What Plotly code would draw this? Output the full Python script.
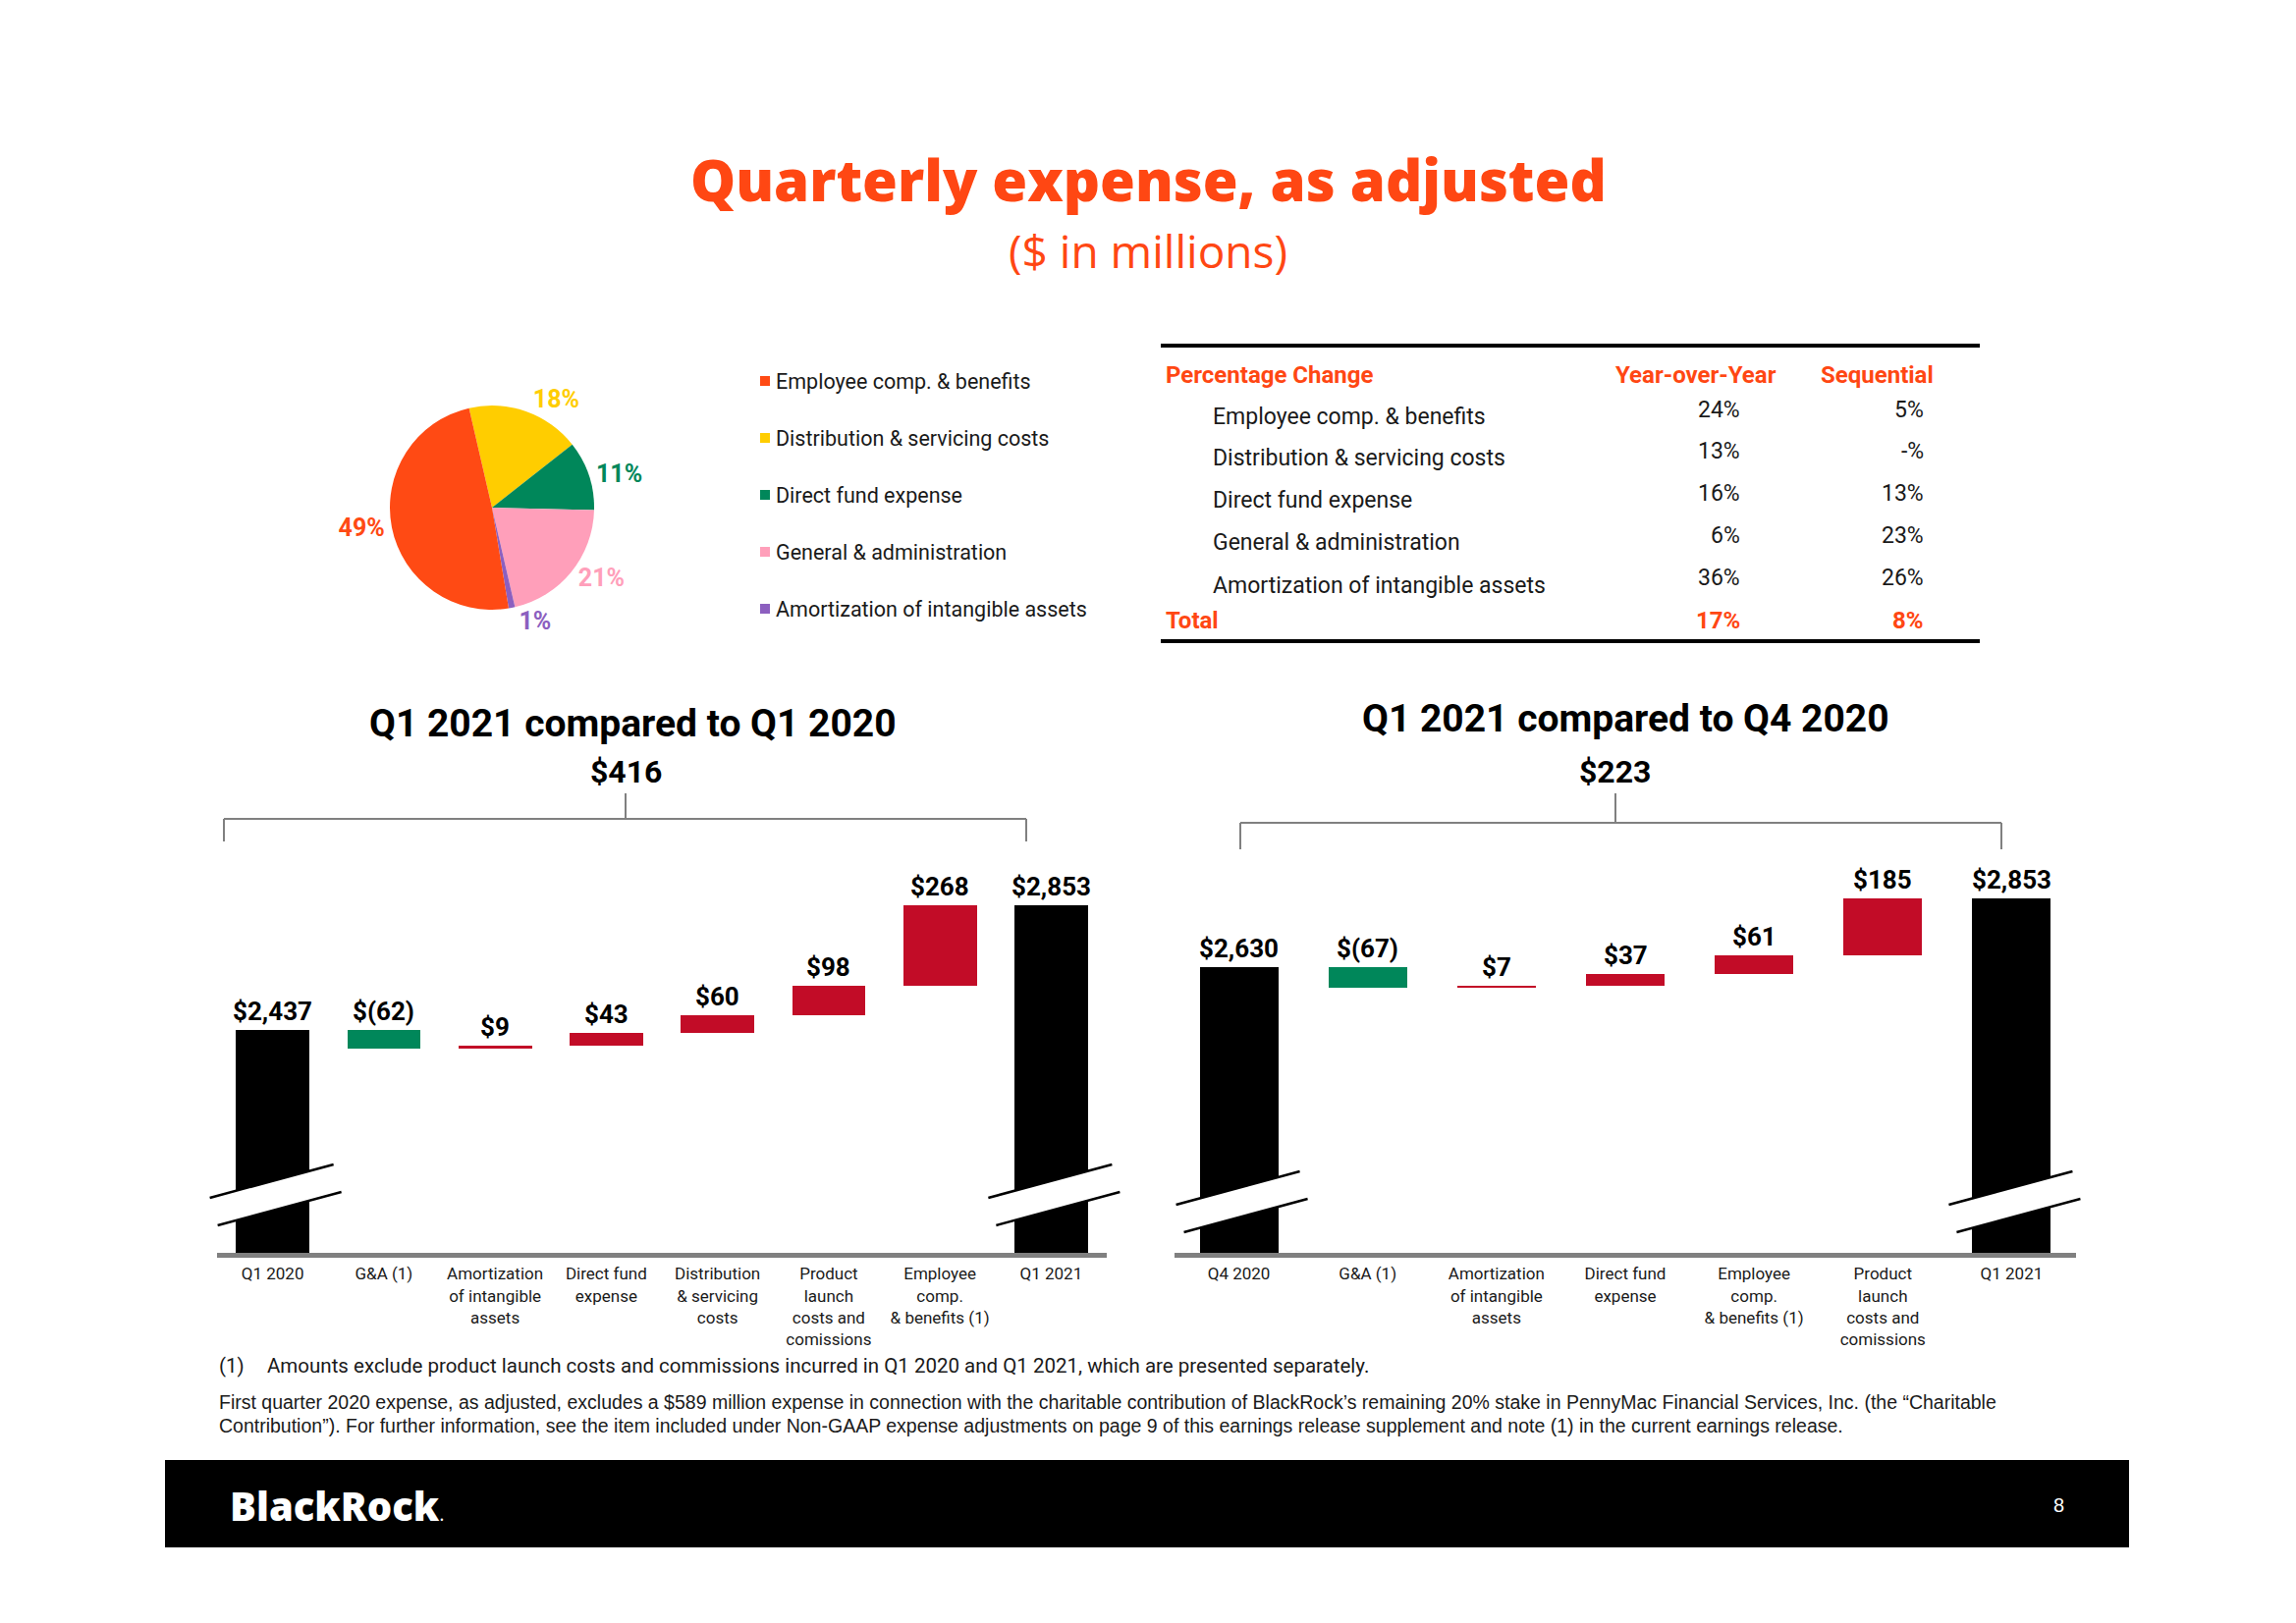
import plotly.graph_objects as go

W, H = 2338, 1653
OFF = 8                      # default page margin of the html body
FW, FH = W - 2 * OFF, H - 2 * OFF

ORANGE = "#FF4713"
RED = "#C20C27"
GREEN = "#00875A"
BLACK = "#000000"
GRAY = "#808080"
TXT = "#1A1A1A"
FONT = "Roboto"

# ---------------- data ----------------
pie_labels = ["Employee comp. & benefits", "Distribution & servicing costs",
              "Direct fund expense", "General & administration",
              "Amortization of intangible assets"]
pie_shares = [49, 18, 11, 21, 1]
pie_colors = ["#FF4A14", "#FFCD00", "#00875A", "#FF9FBA", "#8C5FBF"]
pie_draw_order = [1, 2, 3, 4, 0]

table_rows = ["Employee comp. & benefits", "Distribution & servicing costs",
              "Direct fund expense", "General & administration",
              "Amortization of intangible assets"]
table_yoy = ["24%", "13%", "16%", "6%", "36%"]
table_seq = ["5%", "-%", "13%", "23%", "26%"]
total_yoy = "17%"
total_seq = "8%"

left_cats = ["Q1 2020", "G&A (1)", "Amortization<br>of intangible<br>assets",
             "Direct fund<br>expense", "Distribution<br>& servicing<br>costs",
             "Product<br>launch<br>costs and<br>comissions",
             "Employee<br>comp.<br>& benefits (1)", "Q1 2021"]
left_vals = [2437, -62, 9, 43, 60, 98, 268, 2853]
left_kind = ["total", "relative", "relative", "relative", "relative", "relative", "relative", "total"]
left_change = 416

right_cats = ["Q4 2020", "G&A (1)", "Amortization<br>of intangible<br>assets",
              "Direct fund<br>expense", "Employee<br>comp.<br>& benefits (1)",
              "Product<br>launch<br>costs and<br>comissions", "Q1 2021"]
right_vals = [2630, -67, 7, 37, 61, 185, 2853]
right_kind = ["total", "relative", "relative", "relative", "relative", "relative", "total"]
right_change = 223


def X(p):
    return (p - OFF) / FW


def Y(p):
    return 1 - (p - OFF) / FH


def money(v):
    return f"$({abs(v):,})" if v < 0 else f"${v:,}"


def waterfall(vals, kinds):
    bases, heights, colors, tops = [], [], [], []
    run = 0
    for v, k in zip(vals, kinds):
        if k == "total":
            bases.append(0); heights.append(v); colors.append(BLACK); tops.append(v); run = v
        else:
            bases.append(run); heights.append(v)
            colors.append(RED if v > 0 else GREEN)
            tops.append(max(run, run + v)); run += v
    return bases, heights, colors, tops


fig = go.Figure()

# ---------------- pie ----------------
cx, cy, r = 501, 517, 104
fig.add_trace(go.Pie(
    labels=[pie_labels[i] for i in pie_draw_order],
    values=[pie_shares[i] for i in pie_draw_order],
    marker=dict(colors=[pie_colors[i] for i in pie_draw_order], line=dict(width=0)),
    sort=False, direction="clockwise", rotation=347,
    texttemplate="%{value}%", textposition="outside",
    textfont=dict(family=FONT, size=25, color=[pie_colors[i] for i in pie_draw_order], weight="bold"),
    showlegend=False, hoverinfo="skip",
    domain=dict(x=[X(cx - r), X(cx + r)], y=[Y(cy + r), Y(cy - r)]),
))

shapes = []
ann = []

# legend
leg_y = [388, 446, 504, 562, 620]
for lab, col, yy in zip(pie_labels, pie_colors, leg_y):
    shapes.append(dict(type="rect", xref="paper", yref="paper", x0=X(774), x1=X(784),
                       y0=Y(yy + 5), y1=Y(yy - 5), fillcolor=col, line=dict(width=0)))
    ann.append(dict(text=lab, x=X(788), y=Y(yy), xanchor="left", yanchor="middle",
                    font=dict(family=FONT, size=21.5, color=TXT)))

# ---------------- title ----------------
ann.append(dict(text="Quarterly expense, as adjusted", x=X(1169), y=Y(183), xanchor="center", yanchor="middle",
                font=dict(family="Open Sans", size=58, color=ORANGE, weight=800)))
ann.append(dict(text="($ in millions)", x=X(1169), y=Y(255), xanchor="center", yanchor="middle",
                font=dict(family="Open Sans", size=46, color=ORANGE)))

# ---------------- table ----------------
for yy in (352, 653):
    shapes.append(dict(type="line", xref="paper", yref="paper", x0=X(1182), x1=X(2016),
                       y0=Y(yy), y1=Y(yy), line=dict(color=BLACK, width=4)))
hdr = dict(family=FONT, size=24, color=ORANGE, weight="bold")
ann.append(dict(text="Percentage Change", x=X(1185), y=Y(382), xanchor="left", yanchor="middle", font=hdr))
ann.append(dict(text="Year-over-Year", x=X(1727), y=Y(382), xanchor="center", yanchor="middle", font=hdr))
ann.append(dict(text="Sequential", x=X(1911), y=Y(382), xanchor="center", yanchor="middle", font=hdr))
row_y = [425, 467, 510, 553, 596]
for lab, yoy, seq, yy in zip(table_rows, table_yoy, table_seq, row_y):
    f = dict(family=FONT, size=23, color=TXT)
    ann.append(dict(text=lab, x=X(1233), y=Y(yy), xanchor="left", yanchor="middle", font=f))
    ann.append(dict(text=yoy, x=X(1774), y=Y(yy - 8), xanchor="right", yanchor="middle", font=f))
    ann.append(dict(text=seq, x=X(1961), y=Y(yy - 8), xanchor="right", yanchor="middle", font=f))
ann.append(dict(text="Total", x=X(1185), y=Y(632), xanchor="left", yanchor="middle", font=hdr))
ann.append(dict(text=total_yoy, x=X(1774), y=Y(632), xanchor="right", yanchor="middle", font=hdr))
ann.append(dict(text=total_seq, x=X(1961), y=Y(632), xanchor="right", yanchor="middle", font=hdr))

# ---------------- waterfalls ----------------
BASE_PX, TOP_PX = 1276, 880
charts = [
    dict(cats=left_cats, vals=left_vals, kind=left_kind, change=left_change, xa="x", ya="y",
         dom=(221, 1127), rng=[1694, 2992], width=0.66,
         title="Q1 2021 compared to Q1 2020", tx=644, ty=737, cxp=637,
         br=(228, 1045, 834, 857), bdy=0),
    dict(cats=right_cats, vals=right_vals, kind=right_kind, change=right_change, xa="x2", ya="y2",
         dom=(1196, 2114), rng=[1700, 2965], width=0.61,
         title="Q1 2021 compared to Q4 2020", tx=1655, ty=732, cxp=1645,
         br=(1263, 2038, 838, 865), bdy=7),
]

for ch in charts:
    bases, heights, colors, tops = waterfall(ch["vals"], ch["kind"])
    idx = list(range(len(ch["cats"])))
    fig.add_trace(go.Bar(x=idx, y=heights, base=bases, marker=dict(color=colors, line=dict(width=0)),
                         width=ch["width"], xaxis=ch["xa"], yaxis=ch["ya"], showlegend=False,
                         hoverinfo="skip"))
    for i, (t, v) in enumerate(zip(tops, ch["vals"])):
        ann.append(dict(text=money(v), x=i, y=t, xref=ch["xa"], yref=ch["ya"], xanchor="center",
                        yanchor="middle", yshift=19,
                        font=dict(family=FONT, size=26, color=BLACK, weight="bold")))
    # titles
    ann.append(dict(text=ch["title"], x=X(ch["tx"]), y=Y(ch["ty"]), xanchor="center", yanchor="middle",
                    font=dict(family=FONT, size=39, color=BLACK, weight="bold")))
    ann.append(dict(text=money(ch["change"]), x=X(ch["cxp"]), y=Y(786), xanchor="center", yanchor="middle",
                    font=dict(family=FONT, size=32, color=BLACK, weight="bold")))
    # bracket
    x0b, x1b, yb, yt = ch["br"]
    ln = dict(color=GRAY, width=2)
    shapes.append(dict(type="line", xref="paper", yref="paper", x0=X(x0b), x1=X(x1b), y0=Y(yb), y1=Y(yb), line=ln))
    shapes.append(dict(type="line", xref="paper", yref="paper", x0=X(x0b), x1=X(x0b), y0=Y(yb), y1=Y(yt), line=ln))
    shapes.append(dict(type="line", xref="paper", yref="paper", x0=X(x1b), x1=X(x1b), y0=Y(yb), y1=Y(yt), line=ln))
    shapes.append(dict(type="line", xref="paper", yref="paper", x0=X(ch["cxp"]), x1=X(ch["cxp"]),
                       y0=Y(808), y1=Y(yb), line=ln))
    # break marks on total bars
    d0, d1 = ch["dom"]
    step = (d1 - d0) / len(ch["cats"])
    for i, k in enumerate(ch["kind"]):
        if k != "total":
            continue
        c = d0 + (i + 0.5) * step
        by = BASE_PX + ch["bdy"]
        ul = (c - 64, by - 56); ur = (c + 62, by - 90)
        ll = (c - 56, by - 28); lr = (c + 70, by - 62)
        path = (f"M {X(ul[0])},{Y(ul[1])} L {X(ur[0])},{Y(ur[1])} "
                f"L {X(lr[0])},{Y(lr[1])} L {X(ll[0])},{Y(ll[1])} Z")
        shapes.append(dict(type="path", xref="paper", yref="paper", path=path,
                           fillcolor="white", line=dict(width=0)))
        for a, b in ((ul, ur), (ll, lr)):
            shapes.append(dict(type="line", xref="paper", yref="paper", x0=X(a[0]), y0=Y(a[1]),
                               x1=X(b[0]), y1=Y(b[1]), line=dict(color=BLACK, width=2.5)))

# ---------------- footnotes ----------------
ann.append(dict(text="(1)", x=X(221), y=Y(1391), xanchor="left", yanchor="middle",
                font=dict(family=FONT, size=20.5, color=TXT)))
ann.append(dict(text="Amounts exclude product launch costs and commissions incurred in Q1 2020 and Q1 2021, which are presented separately.",
                x=X(270), y=Y(1391), xanchor="left", yanchor="middle", font=dict(family=FONT, size=20.5, color=TXT)))
ann.append(dict(text="First quarter 2020 expense, as adjusted, excludes a $589 million expense in connection with the charitable contribution of BlackRock\u2019s remaining 20% stake in PennyMac Financial Services, Inc. (the \u201cCharitable",
                x=X(221), y=Y(1428), xanchor="left", yanchor="middle", font=dict(family="Liberation Sans", size=19.5, color=TXT)))
ann.append(dict(text="Contribution\u201d). For further information, see the item included under Non-GAAP expense adjustments on page 9 of this earnings release supplement and note (1) in the current earnings release.",
                x=X(221), y=Y(1452), xanchor="left", yanchor="middle", font=dict(family="Liberation Sans", size=19.5, color=TXT)))

# footer band
shapes.append(dict(type="rect", xref="paper", yref="paper", x0=X(168), x1=X(2168), y0=Y(1576), y1=Y(1487),
                   fillcolor=BLACK, line=dict(width=0), layer="below"))
ann.append(dict(text="BlackRock<span style='font-size:20px;font-weight:400'>.</span>", x=X(232), y=Y(1533),
                xanchor="left", yanchor="middle",
                font=dict(family="Open Sans", size=40, color="white", weight=800)))
ann.append(dict(text="8", x=X(2096), y=Y(1533), xanchor="center", yanchor="middle",
                font=dict(family="Liberation Sans", size=20, color="white")))

for a in ann:
    a.setdefault("showarrow", False)
    a.setdefault("xref", "paper")
    a.setdefault("yref", "paper")

ydom = [Y(BASE_PX), Y(TOP_PX)]
axis_x = dict(showgrid=False, zeroline=False, showline=True, linecolor=GRAY, linewidth=5,
              ticks="outside", ticklen=2, tickcolor="rgba(0,0,0,0)",
              tickfont=dict(family=FONT, size=17, color=TXT), fixedrange=True)
axis_y = dict(visible=False, showgrid=False, zeroline=False, fixedrange=True)

fig.update_layout(
    width=FW, height=FH, margin=dict(l=0, r=0, t=0, b=0),
    paper_bgcolor="white", plot_bgcolor="white",
    xaxis=dict(axis_x, domain=[X(221), X(1127)], range=[-0.5, len(left_cats) - 0.5],
               tickvals=list(range(len(left_cats))), ticktext=left_cats, anchor="y"),
    yaxis=dict(axis_y, domain=ydom, range=charts[0]["rng"], anchor="x"),
    xaxis2=dict(axis_x, domain=[X(1196), X(2114)], range=[-0.5, len(right_cats) - 0.5],
                tickvals=list(range(len(right_cats))), ticktext=right_cats, anchor="y2"),
    yaxis2=dict(axis_y, domain=ydom, range=charts[1]["rng"], anchor="x2"),
    bargap=0, shapes=shapes, annotations=ann, showlegend=False,
)

fig.write_html("out.html")
